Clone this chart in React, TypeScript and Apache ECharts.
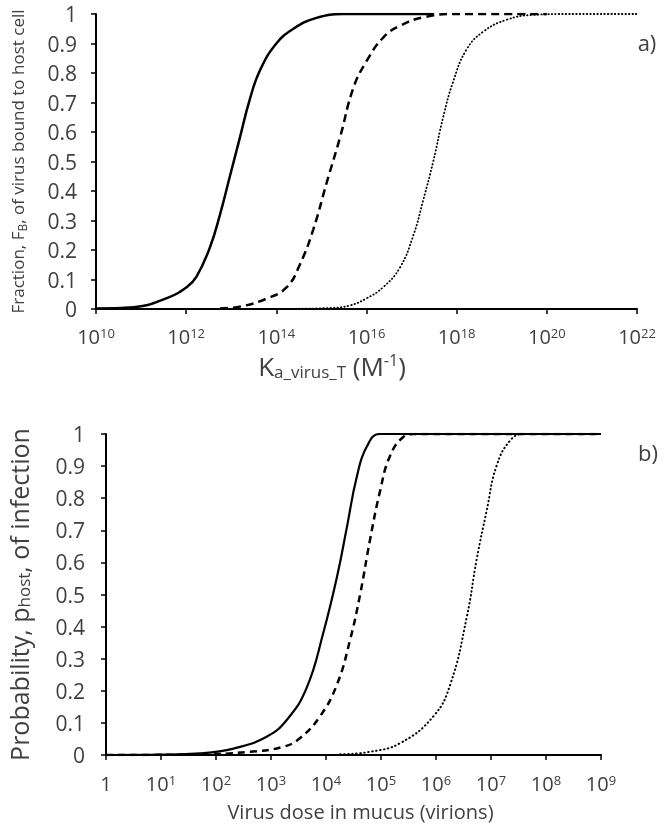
import React, { useEffect, useRef } from "react";
import * as echarts from "echarts";

// ---- Panel a) : fraction bound vs log10(K_a_virus_T) ----
const A_SOLID_LOGK = [10, 10.83, 11.57, 12.01, 12.23, 12.53, 12.75, 12.97, 13.19, 13.41, 13.64, 14.0, 14.38, 14.89, 15.48, 17.5];
const A_SOLID_FB = [0.002, 0.006, 0.037, 0.074, 0.11, 0.21, 0.32, 0.45, 0.58, 0.71, 0.81, 0.9, 0.95, 0.987, 1.0, 1.0];
const A_DASH_LOGK = [12.75, 13.19, 13.78, 14.23, 14.52, 14.82, 15.12, 15.41, 15.71, 16.0, 16.37, 16.74, 17.3, 18, 20];
const A_DASH_FB = [0.002, 0.008, 0.035, 0.074, 0.15, 0.27, 0.43, 0.58, 0.75, 0.84, 0.92, 0.96, 0.99, 1, 1];
const A_DOT_LOGK = [14.5, 15.25, 15.63, 16.0, 16.37, 16.74, 17.04, 17.26, 17.48, 17.7, 17.92, 18.22, 18.59, 19.1, 19.7, 20.5, 22];
const A_DOT_FB = [0.001, 0.004, 0.012, 0.036, 0.074, 0.14, 0.25, 0.37, 0.5, 0.65, 0.77, 0.88, 0.94, 0.98, 0.997, 1, 1];

// ---- Panel b) : probability of infection vs log10(dose) ----
const B_SOLID_LOGD = [0, 1, 1.71, 2.32, 2.92, 3.29, 3.65, 3.95, 4.2, 4.38, 4.56, 4.74, 4.98, 9];
const B_SOLID_P = [0, 0.001, 0.005, 0.02, 0.057, 0.11, 0.21, 0.38, 0.555, 0.71, 0.867, 0.96, 1.0, 1.0];
const B_DASH_LOGD = [0, 1.5, 2.62, 3.23, 3.53, 3.89, 4.2, 4.44, 4.62, 4.8, 4.98, 5.16, 5.4, 5.6, 9];
const B_DASH_P = [0, 0.001, 0.01, 0.026, 0.053, 0.12, 0.22, 0.36, 0.5, 0.67, 0.82, 0.93, 0.99, 1, 1];
const B_DOT_LOGD = [4.26, 4.8, 5.35, 5.95, 6.26, 6.56, 6.74, 6.92, 7.1, 7.35, 7.59, 9];
const B_DOT_P = [0.002, 0.01, 0.037, 0.12, 0.22, 0.43, 0.61, 0.76, 0.9, 0.98, 1.0, 1.0];

const A_X_TICKS = [10, 12, 14, 16, 18, 20, 22];
const B_X_TICKS = [0, 1, 2, 3, 4, 5, 6, 7, 8, 9];

const FONT = "Open Sans";
const TXT = "#404040";

const zip = (xs: number[], ys: number[]) => xs.map((x, i) => [x, ys[i]]);

const powRich = {
  b: { fontSize: 20, fontFamily: FONT, color: TXT, lineHeight: 20, verticalAlign: "bottom" },
  s: { fontSize: 13, fontFamily: FONT, color: TXT, lineHeight: 10, verticalAlign: "top" },
};

export default function App() {
  const ref = useRef<HTMLDivElement>(null);
  useEffect(() => {
    if (!ref.current) return;
    document.body.style.margin = "0";
    const chart = echarts.init(ref.current, undefined, { renderer: "svg" });

    const yAxisCommon = (gridIndex: number, gap: number, margin: number, name: string, rich: any) => ({
      type: "value",
      gridIndex,
      min: 0,
      max: 1,
      interval: 0.1,
      name,
      nameLocation: "middle",
      nameGap: gap,
      nameTextStyle: { rich },
      axisLine: { show: true, lineStyle: { color: "#000", width: 2 } },
      axisTick: { show: true, inside: false, length: 5, lineStyle: { color: "#000", width: 1.5 } },
      splitLine: { show: false },
      axisLabel: {
        margin,
        fontSize: 21,
        lineHeight: 20,
        fontFamily: FONT,
        color: TXT,
        formatter: (v: number) => (v === 0 ? "0" : v === 1 ? "1" : v.toFixed(1)),
      },
    });

    const lineSeries = (xi: number, data: number[][], type: string, width: number, dash?: number[]) => ({
      type: "line",
      xAxisIndex: xi,
      yAxisIndex: xi,
      data,
      showSymbol: false,
      symbol: "none",
      smooth: 0.45,
      lineStyle: {
        color: "#000",
        width,
        type: dash ? dash : type,
        cap: type === "dotted" ? "round" : "butt",
      },
      z: 3,
    });

    chart.setOption({
      animation: false,
      grid: [
        { left: 96, right: 29, top: 14, height: 295, outerBoundsMode: "none", containLabel: false },
        { left: 106, right: 65, top: 434, height: 321, outerBoundsMode: "none", containLabel: false },
      ],
      xAxis: [
        {
          type: "value",
          gridIndex: 0,
          min: 10,
          max: 22,
          interval: 2,
          axisLine: { show: true, onZero: false, lineStyle: { color: "#000", width: 2 } },
          axisTick: { show: true, length: 5, lineStyle: { color: "#000", width: 1.5 } },
          splitLine: { show: false },
          axisLabel: {
            margin: 17,
            formatter: (v: number) => (A_X_TICKS.includes(v) ? `{b|10}{s|${v}}` : ""),
            rich: powRich,
          },
        },
        {
          type: "value",
          gridIndex: 1,
          min: 0,
          max: 9,
          interval: 1,
          name: "Virus dose in mucus (virions)",
          nameLocation: "middle",
          nameGap: 45,
          nameTextStyle: { fontSize: 20, fontFamily: FONT, color: TXT, lineHeight: 22, padding: [0, 0, 0, 14] },
          axisLine: { show: true, onZero: false, lineStyle: { color: "#000", width: 2 } },
          axisTick: { show: true, length: 5, lineStyle: { color: "#000", width: 1.5 } },
          splitLine: { show: false },
          axisLabel: {
            margin: 18,
            formatter: (v: number) =>
              B_X_TICKS.includes(v) ? (v === 0 ? "{b|1}" : `{b|10}{s|${v}}`) : "",
            rich: powRich,
          },
        },
      ],
      yAxis: [
        yAxisCommon(0, 68, 19, "{n|Fraction, F}{sub|B}{n|, of virus bound to host cell}", {
          n: { fontSize: 17, fontFamily: FONT, color: TXT, lineHeight: 22, verticalAlign: "middle" },
          sub: { fontSize: 12, fontFamily: FONT, color: TXT, lineHeight: 10, verticalAlign: "bottom" },
        }),
        yAxisCommon(1, 74, 21, "{n|Probability, p}{sub|host}{n|, of infection}", {
          n: { fontSize: 25, fontFamily: FONT, color: TXT, lineHeight: 26, verticalAlign: "middle" },
          sub: { fontSize: 17, fontFamily: FONT, color: TXT, lineHeight: 12, verticalAlign: "bottom" },
        }),
      ],
      graphic: [
        {
          type: "text",
          x: 332,
          y: 366,
          style: {
            text: "{k|K}{sub|a_virus_T}{k| (M}{sup|-1}{k|)}",
            align: "center",
            verticalAlign: "middle",
            rich: {
              k: { fontSize: 26, fontFamily: FONT, fill: TXT, lineHeight: 28, verticalAlign: "middle" },
              sub: { fontSize: 17, fontFamily: FONT, fill: TXT, lineHeight: 14, verticalAlign: "bottom" },
              sup: { fontSize: 16, fontFamily: FONT, fill: TXT, lineHeight: 14, verticalAlign: "top" },
            },
          },
        },
        {
          type: "text",
          x: 647,
          y: 42,
          style: { text: "a)", fontSize: 22, fontFamily: FONT, fill: TXT, align: "center", verticalAlign: "middle" },
        },
        {
          type: "text",
          x: 648,
          y: 452,
          style: { text: "b)", fontSize: 22, fontFamily: FONT, fill: TXT, align: "center", verticalAlign: "middle" },
        },
      ],
      series: [
        lineSeries(0, zip(A_SOLID_LOGK, A_SOLID_FB), "solid", 2.5),
        lineSeries(0, zip(A_DASH_LOGK, A_DASH_FB), "dashed", 2.5, [8, 5]),
        lineSeries(0, zip(A_DOT_LOGK, A_DOT_FB), "dotted", 1.8, [0.5, 3]),
        lineSeries(1, zip(B_SOLID_LOGD, B_SOLID_P), "solid", 2.2),
        lineSeries(1, zip(B_DASH_LOGD, B_DASH_P), "dashed", 2.5, [7, 5]),
        lineSeries(1, zip(B_DOT_LOGD, B_DOT_P), "dotted", 2, [0.5, 3.5]),
      ],
    });
    return () => chart.dispose();
  }, []);
  return <div ref={ref} style={{ position: "fixed", left: 0, top: 0, width: 666, height: 827 }} />;
}
